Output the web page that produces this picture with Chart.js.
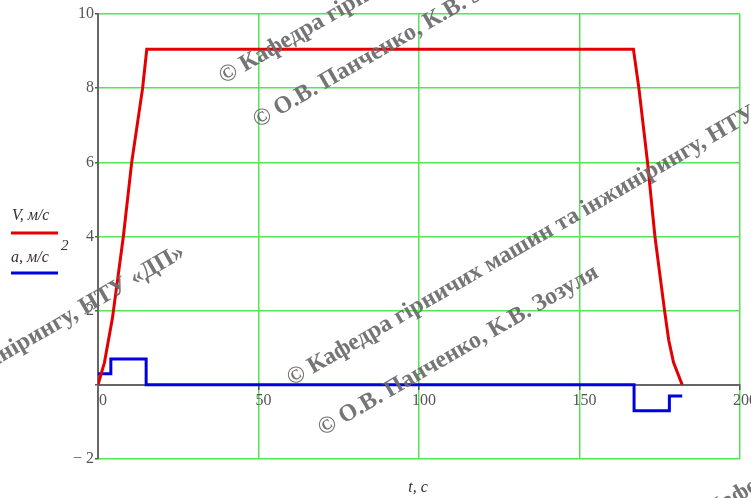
<!DOCTYPE html>
<html>
<head>
<meta charset="utf-8">
<script src="https://cdn.jsdelivr.net/npm/chart.js@4"></script>
<style>
  body { margin: 0; background: #fff; }
  #wrap { position: relative; width: 751px; height: 498px; }
</style>
</head>
<body>
<div id="wrap"><canvas id="speedChart"></canvas></div>
<script>
// швидкість V, м/с
const tV = [0, 2, 4.5, 7.9, 10.5, 13.9, 15.2, 166.8, 168.5, 171.2, 173.5, 176.5, 177.8, 179.3, 182];
const vV = [0, 0.6, 1.8, 4, 6, 8, 9.05, 9.05, 8, 6, 4, 2, 1.2, 0.6, 0];
// прискорення a, м/с2 (ступінчасто, кожна сходинка двома точками)
const tA = [0, 4, 4, 15, 15, 167, 167, 178, 178, 182];
const aA = [0.3, 0.3, 0.7, 0.7, 0, 0, -0.7, -0.7, -0.3, -0.3];

const xTicks = [0, 50, 100, 150, 200];
const yTicks = [-2, 0, 2, 4, 6, 8, 10];

const legendLabels = ['V, м/с', 'a, м/с'];
const xTitle = 't, c';
const watermarkA = '© Кафедра гірничих машин та інжинірингу, НТУ «ДП»';
const watermarkB = '© О.В. Панченко, К.В. Зозуля';

const green = 'rgb(85,228,85)';
const red = 'rgb(228,0,0)';
const blue = 'rgb(0,0,225)';

function toPoints(xs, ys) {
    return xs.map((x, i) => ({ x: x, y: ys[i] }));
}

const extras = {
    id: 'extras',
    afterDraw(chart) {
        const ctx = chart.ctx;
        ctx.save();
        // легенда зліва
        ctx.fillStyle = '#333';
        ctx.font = 'italic 16px "Liberation Serif"';
        ctx.textBaseline = 'alphabetic';
        ctx.fillText(legendLabels[0], 12, 220);
        ctx.fillText(legendLabels[1], 11, 262);
        ctx.font = 'italic 15px "Liberation Serif"';
        ctx.fillText('2', 61, 250);
        ctx.lineWidth = 3;
        ctx.strokeStyle = red;
        ctx.beginPath(); ctx.moveTo(11, 233); ctx.lineTo(58, 233); ctx.stroke();
        ctx.strokeStyle = blue;
        ctx.beginPath(); ctx.moveTo(11, 273); ctx.lineTo(58, 273); ctx.stroke();

        // підпис осі t
        ctx.fillStyle = '#333';
        ctx.font = 'italic 16px "Liberation Serif"';
        ctx.textAlign = 'center';
        ctx.fillText(xTitle, 418, 492);

        // водяні знаки
        const wm = (text, x, y, align) => {
            ctx.save();
            ctx.translate(x, y);
            ctx.rotate(-30 * Math.PI / 180);
            ctx.font = 'bold 24px "Liberation Serif"';
            ctx.textAlign = align;
            ctx.fillStyle = 'rgba(105,105,105,0.92)';
            ctx.fillText(text, 0, 0);
            ctx.restore();
        };
        wm(watermarkA, 224, 84, 'left');
        wm(watermarkB, 258, 128, 'left');
        wm(watermarkA, 292, 386, 'left');
        wm(watermarkB, 323, 436, 'left');
        wm(watermarkA, 186, 256, 'right');
        wm(watermarkA, 690, 530, 'left');
        ctx.restore();
    }
};

new Chart(document.getElementById('speedChart'), {
    type: 'line',
    data: {
        datasets: [{
            label: legendLabels[0],
            data: toPoints(tV, vV),
            borderColor: red,
            borderWidth: 3,
            pointRadius: 0,
            tension: 0
        }, {
            label: legendLabels[1],
            data: toPoints(tA, aA),
            borderColor: blue,
            borderWidth: 3,
            pointRadius: 0,
            tension: 0
        }]
    },
    options: {
        animation: false,
        responsive: true,
        maintainAspectRatio: false,
        layout: { padding: { left: 0, right: 11, top: 14, bottom: 39 } },
        plugins: { legend: { display: false }, tooltip: { enabled: false } },
        scales: {
            x: {
                type: 'linear',
                min: xTicks[0],
                max: xTicks[xTicks.length - 1],
                position: { y: 0 },
                afterBuildTicks: s => { s.ticks = xTicks.map(v => ({ value: v })); },
                afterFit: s => { s.paddingLeft = 0; s.paddingRight = 0; },
                ticks: {
                    autoSkip: false,
                    maxRotation: 0,
                    padding: 2,
                    labelOffset: 5,
                    color: '#555',
                    font: { family: '"Liberation Serif"', size: 16 }
                },
                grid: {
                    color: c => (c.tick && c.tick.value === 0) ? 'rgba(0,0,0,0)' : green,
                    lineWidth: 1.5,
                    tickLength: 4,
                    tickColor: '#555'
                },
                border: { color: '#666', width: 2 }
            },
            y: {
                min: yTicks[0],
                max: yTicks[yTicks.length - 1],
                afterBuildTicks: s => { s.ticks = yTicks.map(v => ({ value: v })); },
                afterFit: s => { s.width = 98; s.paddingTop = 0; s.paddingBottom = 0; },
                ticks: {
                    padding: 1,
                    color: '#555',
                    font: { family: '"Liberation Serif"', size: 16 },
                    callback: v => v === 0 ? '' : (v < 0 ? '\u2212 ' + (-v) : String(v))
                },
                grid: {
                    color: c => (c.tick && c.tick.value === 0) ? 'rgba(0,0,0,0)' : green,
                    lineWidth: 1.5,
                    tickLength: 3,
                    tickColor: '#555'
                },
                border: { color: '#666', width: 2 }
            }
        }
    },
    plugins: [extras]
});
</script>
</body>
</html>
